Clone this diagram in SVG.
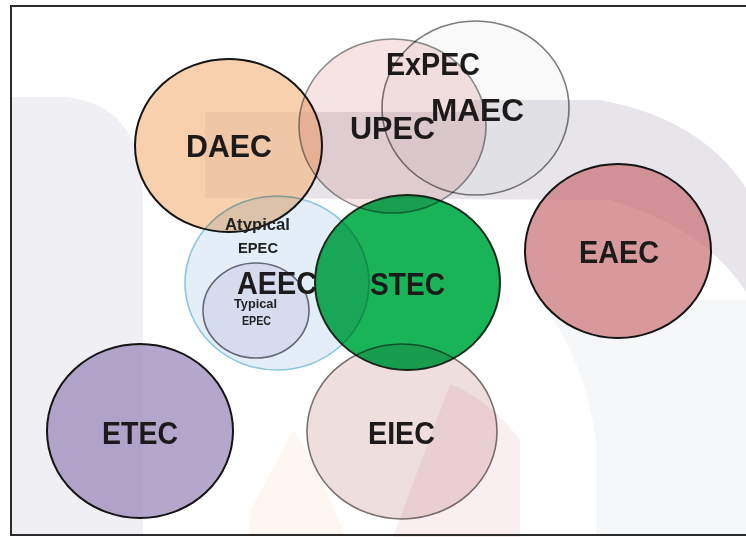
<svg xmlns="http://www.w3.org/2000/svg" width="746" height="537" viewBox="0 0 746 537">
<style>
.big{font-family:"Liberation Sans",Arial,sans-serif;font-weight:bold;font-size:31px;fill:#1c1a1a}
.sm{font-family:"Liberation Sans",Arial,sans-serif;font-weight:bold;fill:#222}
.ov{mix-blend-mode:multiply}
.wm{mix-blend-mode:multiply}
</style>
<rect x="0" y="0" width="746" height="537" fill="#ffffff"/>
<g id="watermark-under">
<path d="M11,97 H62 Q143,102 143,200 V535 H11 Z" fill="#f5f6f8"/>
<path d="M205,112 H470 L470,100 H600 Q700,118 746,188 V292 Q705,228 610,200 L205,198 Z" fill="#f0f1f4"/>
<path d="M540,300 Q585,360 596,440 V535 H746 V300 Z" fill="#f6f7f9"/>
<path d="M293,430 L252,508 L248,535 H345 L318,470 Z" fill="#fef7f1"/>
<path d="M450,384 L393,537 H520 V440 Q490,400 450,384 Z" fill="#f9eef0"/>
</g>
<g id="DAEC"><ellipse cx="228.5" cy="145.5" rx="93.5" ry="86.5" fill="#f8d0ad" stroke="#141414" stroke-width="2"/></g>
<g id="EAEC"><ellipse cx="618" cy="251" rx="93" ry="87" fill="#d8999c" stroke="#141414" stroke-width="2"/></g>
<g id="ETEC"><ellipse cx="140" cy="431" rx="93" ry="87" fill="#b5a7cc" stroke="#141414" stroke-width="2"/></g>
<g id="STEC"><ellipse cx="407.5" cy="282.5" rx="92.5" ry="87.5" fill="#19b358" stroke="#1b2a1d" stroke-width="2"/></g>
<g id="UPEC"><ellipse class="ov" cx="392.5" cy="126" rx="93.5" ry="87" fill="#f6e3e3" stroke="#8a8a8a" stroke-width="1.6"/></g>
<g id="MAEC"><ellipse class="ov" cx="475.5" cy="108" rx="93.5" ry="87" fill="#f9f9fa" stroke="#7c7c7c" stroke-width="1.6"/></g>
<g id="AEEC"><ellipse class="ov" cx="277" cy="283" rx="92" ry="87" fill="#e3eef8" stroke="#8cc6de" stroke-width="1.6"/></g>
<g id="TypicalEPEC"><ellipse class="ov" cx="256" cy="310.5" rx="53" ry="47.5" fill="#f1ecf5" stroke="#6f6f7c" stroke-width="1.6"/></g>
<g id="EIEC"><ellipse class="ov" cx="402" cy="431.5" rx="95" ry="87.5" fill="#efdede" stroke="#7a7070" stroke-width="1.6"/></g>
<g id="watermark-over">
<path class="wm" d="M11,97 H62 Q143,102 143,200 V535 H11 Z" fill="#f9f8fb"/>
<path class="wm" d="M205,112 H470 L470,100 H600 Q700,118 746,188 V292 Q705,228 610,200 L205,198 Z" fill="#f6f3f5"/>
</g>
<g id="labels">
<text class="big" x="186" y="157" textLength="86" lengthAdjust="spacingAndGlyphs">DAEC</text>
<text class="big" x="386" y="75" textLength="94" lengthAdjust="spacingAndGlyphs">ExPEC</text>
<text class="big" x="431" y="121" textLength="93" lengthAdjust="spacingAndGlyphs">MAEC</text>
<text class="big" x="350" y="139" textLength="85" lengthAdjust="spacingAndGlyphs">UPEC</text>
<text class="big" x="579" y="263" textLength="80" lengthAdjust="spacingAndGlyphs">EAEC</text>
<text class="big" x="370" y="295" textLength="75" lengthAdjust="spacingAndGlyphs">STEC</text>
<text class="big" x="237" y="294" textLength="80" lengthAdjust="spacingAndGlyphs">AEEC</text>
<text class="big" x="102" y="444" textLength="76" lengthAdjust="spacingAndGlyphs">ETEC</text>
<text class="big" x="368" y="444" textLength="67" lengthAdjust="spacingAndGlyphs">EIEC</text>
<text class="sm" x="225" y="230" font-size="16" textLength="65" lengthAdjust="spacingAndGlyphs">Atypical</text>
<text class="sm" x="238" y="253" font-size="15" textLength="40" lengthAdjust="spacingAndGlyphs">EPEC</text>
<text class="sm" x="234" y="308" font-size="13" textLength="43" lengthAdjust="spacingAndGlyphs">Typical</text>
<text class="sm" x="242" y="325" font-size="13" textLength="29" lengthAdjust="spacingAndGlyphs">EPEC</text>
</g>
<rect x="11" y="6" width="745" height="529" fill="none" stroke="#2b2b2b" stroke-width="2"/>
</svg>
